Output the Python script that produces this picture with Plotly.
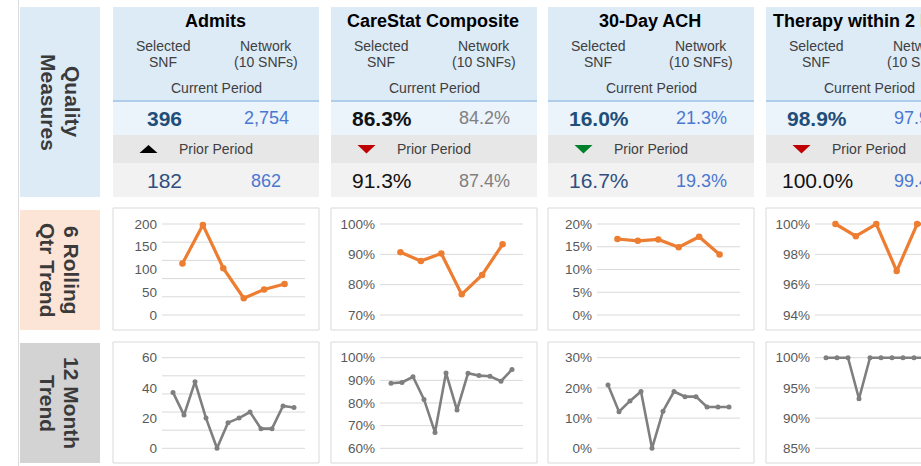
import plotly.graph_objects as go

W, H = 921, 466
FONT = "Liberation Sans, Arial, sans-serif"

# ---------------- data ----------------
measures = ["Admits", "CareStat Composite", "30-Day ACH", "Therapy within 2 Days"]
cur_snf = [396, 86.3, 16.0, 98.9]
cur_net = [2754, 84.2, 21.3, 97.9]
prior_snf = [182, 91.3, 16.7, 100.0]
prior_net = [862, 87.4, 19.3, 99.4]
value_fmt = ["{:,.0f}", "{:.1f}%", "{:.1f}%", "{:.1f}%"]
trend_dir = ["up", "down", "down", "down"]

qtr_admits = [113, 198, 103, 37, 56, 68]
qtr_carestat = [90.7, 87.8, 90.3, 76.8, 83.2, 93.3]
qtr_ach = [16.7, 16.3, 16.6, 14.9, 17.2, 13.3]
qtr_therapy = [100.0, 99.2, 100.0, 96.9, 100.0, 100.0]

mon_admits = [37, 22, 44, 20, 0, 17, 20, 24, 13, 13, 28, 27]
mon_carestat = [88.7, 89.1, 91.6, 81.6, 67.0, 93.3, 76.9, 93.1, 92.1, 91.8, 89.6, 94.8]
mon_ach = [21.0, 12.1, 15.7, 18.8, 0.0, 12.3, 18.8, 17.1, 17.1, 13.7, 13.7, 13.7]
mon_therapy = [100, 100, 100, 93.2, 100, 100, 100, 100, 100, 100, 100, 100]

qtr_labels = [[0, 50, 100, 150, 200], [70, 80, 90, 100], [0, 5, 10, 15, 20], [94, 96, 98, 100]]
qtr_grid = [[0, 40, 80, 120, 160, 200], [70, 80, 90, 100], [0, 5, 10, 15, 20], [94, 96, 98, 100]]
mon_labels = [[0, 20, 40, 60], [60, 70, 80, 90, 100], [0, 10, 20, 30], [85, 90, 95, 100]]
mon_grid = [[0, 12, 24, 36, 48, 60], [60, 70, 80, 90, 100], [0, 10, 20, 30], [85, 90, 95, 100]]
tick_suffix = ["", "%", "%", "%"]

row_labels = [("Quality", "Measures"), ("6 Rolling", "Qtr Trend"), ("12 Month", "Trend")]

# ---------------- styles ----------------
cur_snf_color = ["#1f4e79", "#111111", "#1f4e79", "#1f4e79"]
cur_net_color = ["#4a78d0", "#808080", "#4a78d0", "#4a78d0"]
prior_snf_color = ["#2f4f80", "#111111", "#2f4f80", "#111111"]
prior_net_color = ["#4a78d0", "#808080", "#4a78d0", "#4a78d0"]
tri_color = ["#000000", "#c00000", "#00802b", "#c00000"]
row_bg = ["#ddebf7", "#fce4d6", "#d3d3d3"]
row_box = [(7, 197), (210, 330), (343, 463)]
col_left = [113, 331, 548, 766]
COL_W = 206


def fx(p):
    return p / W


def fy(p):
    return 1 - p / H


shapes = []
ann = []


def rect(x0, y0, x1, y1, fill, line=None, lw=0):
    shapes.append(dict(type="rect", xref="paper", yref="paper",
                       x0=fx(x0), x1=fx(x1), y0=fy(y1), y1=fy(y0),
                       fillcolor=fill, line=dict(color=line or fill, width=lw),
                       layer="below"))


def hline(x0, x1, y, color, lw):
    shapes.append(dict(type="line", xref="paper", yref="paper",
                       x0=fx(x0), x1=fx(x1), y0=fy(y), y1=fy(y),
                       line=dict(color=color, width=lw), layer="below"))


def text(x, y, s, size, color, bold=False, angle=0):
    ann.append(dict(xref="paper", yref="paper", x=fx(x), y=fy(y),
                    text=f"<b>{s}</b>" if bold else s, showarrow=False,
                    font=dict(family=FONT, size=size, color=color),
                    xanchor="center", yanchor="middle", textangle=angle))


# left guide line
shapes.append(dict(type="line", xref="paper", yref="paper", x0=fx(18.5), x1=fx(18.5),
                   y0=0, y1=1, line=dict(color="#dcdcdc", width=1), layer="below"))

# row label boxes
for (t1, t2), bg, (y0, y1) in zip(row_labels, row_bg, row_box):
    rect(20, y0, 100, y1, bg)
    cy = (y0 + y1) / 2
    text(72, cy, t1, 21, "#3a3a3a", bold=True, angle=90)
    text(48, cy, t2, 21, "#3a3a3a", bold=True, angle=90)

# header panels
for i, L in enumerate(col_left):
    R = L + COL_W
    rect(L, 7, R, 101, "#ddebf7")
    rect(L, 101, R, 135, "#ebf3fb")
    rect(L, 135, R, 163, "#e7e7e7")
    rect(L, 163, R, 197, "#f2f2f2")
    hline(L, R, 101, "#9dc3e6", 1.5)
    text(L + 102, 21, measures[i], 18, "#000000", bold=True)
    text(L + 50, 45.5, "Selected", 14, "#404040")
    text(L + 50, 62, "SNF", 14, "#404040")
    text(L + 153, 45.5, "Network", 14, "#404040")
    text(L + 153, 62, "(10 SNFs)", 14, "#404040")
    text(L + 103, 88, "Current Period", 14, "#404040")
    fmt = value_fmt[i]
    text(L + 51, 118, fmt.format(cur_snf[i]), 21, cur_snf_color[i], bold=True)
    text(L + 153, 118.5, fmt.format(cur_net[i]), 18, cur_net_color[i])
    text(L + 103, 149, "Prior Period", 14, "#404040")
    text(L + 51, 180, fmt.format(prior_snf[i]), 21, prior_snf_color[i])
    text(L + 153, 180.5, fmt.format(prior_net[i]), 18, prior_net_color[i])
    cx, cy = L + 35.5, 149
    if trend_dir[i] == "up":
        pts = [(cx, cy - 4), (cx - 9, cy + 4), (cx + 9, cy + 4)]
    else:
        pts = [(cx, cy + 4.5), (cx - 9, cy - 4), (cx + 9, cy - 4)]
    path = "M " + " L ".join(f"{fx(a):.5f},{fy(b):.5f}" for a, b in pts) + " Z"
    shapes.append(dict(type="path", xref="paper", yref="paper", path=path,
                       fillcolor=tri_color[i], line=dict(width=0)))

# trend charts
fig = go.Figure()
rows = [
    dict(series=[qtr_admits, qtr_carestat, qtr_ach, qtr_therapy], labels=qtr_labels, grid=qtr_grid,
         box=(208, 330), top=224, bot=315, color="#ed7d31", lw=3.2, ms=6.5),
    dict(series=[mon_admits, mon_carestat, mon_ach, mon_therapy], labels=mon_labels, grid=mon_grid,
         box=(342, 463), top=357.7, bot=448.3, color="#7f7f7f", lw=2.6, ms=5),
]
layout_axes = {}
n = 0
PAD = 12
for r, row in enumerate(rows):
    for c, L in enumerate(col_left):
        n += 1
        vals = row["series"][c]
        labs = row["labels"][c]
        grid = row["grid"][c]
        # chart frame
        rect(L, row["box"][0], L + COL_W, row["box"][1], "#ffffff", line="#d9d9d9", lw=1)
        gx0 = L + 49
        gx1 = min(W, L + 192)
        ppu = 143 / (len(vals) + 1)
        xr = [-1, -1 + (gx1 - gx0) / ppu]
        lo, hi = grid[0], grid[-1]
        upp = (hi - lo) / (row["bot"] - row["top"])
        yr = [lo - PAD * upp, hi + PAD * upp]
        xs = "" if n == 1 else str(n)
        layout_axes[f"xaxis{xs}"] = dict(domain=[fx(gx0), min(1.0, fx(gx1))], range=xr, visible=False,
                                          anchor=f"y{xs}", fixedrange=True)
        layout_axes[f"yaxis{xs}"] = dict(domain=[fy(row["bot"] + PAD), fy(row["top"] - PAD)], range=yr,
                                          anchor=f"x{xs}", tickmode="array", tickvals=labs,
                                          ticktext=[f"{v}{tick_suffix[c]}" for v in labs],
                                          showgrid=False, zeroline=False, showline=False, ticks="",
                                          ticklabelstandoff=4,
                                          tickfont=dict(family=FONT, size=13.5, color="#595959"),
                                          fixedrange=True)
        for g in grid:
            shapes.append(dict(type="line", xref=f"x{xs} domain", yref=f"y{xs}", x0=0, x1=1, y0=g, y1=g,
                               line=dict(color="#d9d9d9", width=1), layer="below"))
        fig.add_trace(go.Scatter(x=list(range(len(vals))), y=vals, mode="lines+markers",
                                 line=dict(color=row["color"], width=row["lw"]),
                                 marker=dict(color=row["color"], size=row["ms"]),
                                 xaxis=f"x{xs}", yaxis=f"y{xs}", cliponaxis=False,
                                 hoverinfo="skip", showlegend=False))

fig.update_layout(width=W, height=H, autosize=False, margin=dict(l=0, r=0, t=0, b=0),
                  paper_bgcolor="#ffffff", plot_bgcolor="rgba(0,0,0,0)",
                  shapes=shapes, annotations=ann, showlegend=False, **layout_axes)

fig.write_html("out.html", config={"displayModeBar": False, "staticPlot": True},
               post_script="document.body.style.margin='0';")
